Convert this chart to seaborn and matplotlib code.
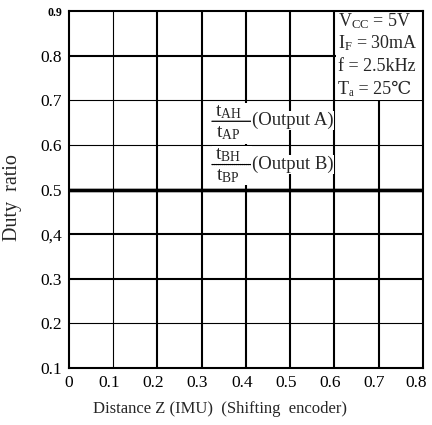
import matplotlib
matplotlib.use("Agg")
import matplotlib.pyplot as plt
from matplotlib.patches import Rectangle
from matplotlib.transforms import ScaledTranslation
import seaborn as sns
import pandas as pd

# ---- data ----
x_ticks = [0, 0.1, 0.2, 0.3, 0.4, 0.5, 0.6, 0.7, 0.8]
x_tick_labels = ["0", "0.1", "0.2", "0.3", "0.4", "0.5", "0.6", "0.7", "0.8"]
y_ticks = [0.1, 0.2, 0.3, 0.4, 0.5, 0.6, 0.7, 0.8, 0.9]
y_tick_labels = ["0.1", "0.2", "0.3", "0,4", "0.5", "0.6", "0.7", "0.8", "0.9"]
distance = [0.0, 0.8]
duty_a = [0.5, 0.5]
duty_b = [0.5, 0.5]
conditions = [r"V$_{\mathrm{CC}}$ = 5V", r"I$_{\mathrm{F}}$ = 30mA",
              "f = 2.5kHz", "Tₐ = 25℃"]

sns.set_theme(style="white")
plt.rcParams["font.family"] = ["Liberation Serif", "DejaVu Serif", "DejaVu Sans"]
plt.rcParams["mathtext.fontset"] = "custom"
plt.rcParams["mathtext.rm"] = "Liberation Serif"
plt.rcParams["mathtext.it"] = "Liberation Serif:italic"
plt.rcParams["mathtext.bf"] = "Liberation Serif:bold"

df = pd.DataFrame({
    "Distance": distance + distance,
    "Duty": duty_a + duty_b,
    "Output": ["A"] * len(distance) + ["B"] * len(distance),
})

fig = plt.figure(figsize=(4.32, 4.25), dpi=100)
fig.subplots_adjust(left=0.1597, right=0.979, top=0.974, bottom=0.134)
ax = fig.add_subplot(111)

sns.lineplot(data=df, x="Distance", y="Duty", hue="Output",
             palette=["black", "black"], linewidth=2.4, legend=False,
             ax=ax, zorder=3)

ax.set_xlim(0, 0.8)
ax.set_ylim(0.1, 0.9)
ax.set_xticks(x_ticks)
ax.set_xticklabels(x_tick_labels, fontsize=12.5)
ax.set_yticks(y_ticks)
ax.set_yticklabels(y_tick_labels, fontsize=12.5)
top_lbl = ax.get_yticklabels()[-1]
top_lbl.set_fontsize(8.5)
top_lbl.set_fontweight("bold")
ax.tick_params(axis="both", length=0, pad=5, colors="black")

# slight leftward shift of x tick labels, as in the reference
xlabels = ax.get_xticklabels()
for i, lbl in enumerate(xlabels):
    if i == 0:
        continue
    dx = -3 / 72 if i < len(xlabels) - 1 else 3 / 72
    lbl.set_transform(lbl.get_transform() + ScaledTranslation(dx, 0, fig.dpi_scale_trans))
xlabels[-1].set_horizontalalignment("right")

ax.set_axisbelow(True)
ax.grid(True, color="black")
xw = [1.4, 0.8, 1.5, 1.5, 1.5, 1.5, 1.5, 1.5, 1.4]
for gl, w in zip(ax.xaxis.get_gridlines(), xw):
    gl.set_linewidth(w)
yw = [1.4, 0.8, 1.5, 1.5, 1.5, 0.8, 0.8, 1.5, 1.4]
for gl, w in zip(ax.yaxis.get_gridlines(), yw):
    gl.set_linewidth(w)

for sp in ax.spines.values():
    sp.set_color("black")
    sp.set_linewidth(1.5)
    sp.set_zorder(5)

ax.set_xlabel("Distance Z (IMU)  (Shifting  encoder)", fontsize=12)
ax.xaxis.set_label_coords(0.427, -0.093)
ax.set_ylabel("Duty  ratio", fontsize=14.5)
ax.yaxis.set_label_coords(-0.133, 0.478)

# conditions box
ax.add_patch(Rectangle((0.754, 0.752), 0.26, 0.26, transform=ax.transAxes,
                       facecolor="white", edgecolor="none", zorder=2.5))
ys = [0.878, 0.828, 0.775, 0.724]
for txt, yy in zip(conditions, ys):
    ax.text(0.607, yy, txt, fontsize=13, va="center", ha="left", zorder=4)

# fraction labels (white backing behind the fractions)
ax.add_patch(Rectangle((0.404, 0.628), 0.113, 0.114, transform=ax.transAxes,
                       facecolor="white", edgecolor="none", zorder=2.2))
ax.add_patch(Rectangle((0.404, 0.513), 0.113, 0.109, transform=ax.transAxes,
                       facecolor="white", edgecolor="none", zorder=2.2))
bar = dict(arrowstyle="-", lw=0.9, color="black", shrinkA=0, shrinkB=0)
ax.text(0.36, 0.673, r"t$_{\mathrm{AH}}$", fontsize=14, va="center", ha="center", zorder=4)
ax.annotate("", xy=(0.415, 0.653), xytext=(0.323, 0.653), arrowprops=bar, zorder=4)
ax.text(0.36, 0.626, r"t$_{\mathrm{AP}}$", fontsize=14, va="center", ha="center", zorder=4)
ax.text(0.36, 0.576, r"t$_{\mathrm{BH}}$", fontsize=14, va="center", ha="center", zorder=4)
ax.annotate("", xy=(0.415, 0.556), xytext=(0.323, 0.556),
            arrowprops=dict(bar, linestyle=(0, (1, 0.6))), zorder=4)
ax.text(0.36, 0.529, r"t$_{\mathrm{BP}}$", fontsize=14, va="center", ha="center", zorder=2.3)

bb = dict(facecolor="white", edgecolor="none", pad=0.6)
ax.text(0.413, 0.654, "(Output A)", fontsize=13.5, va="center", ha="left",
        bbox=bb, zorder=4)
ax.text(0.413, 0.556, "(Output B)", fontsize=13.5, va="center", ha="left",
        bbox=bb, zorder=4)

fig.savefig("out.png", dpi=100)
